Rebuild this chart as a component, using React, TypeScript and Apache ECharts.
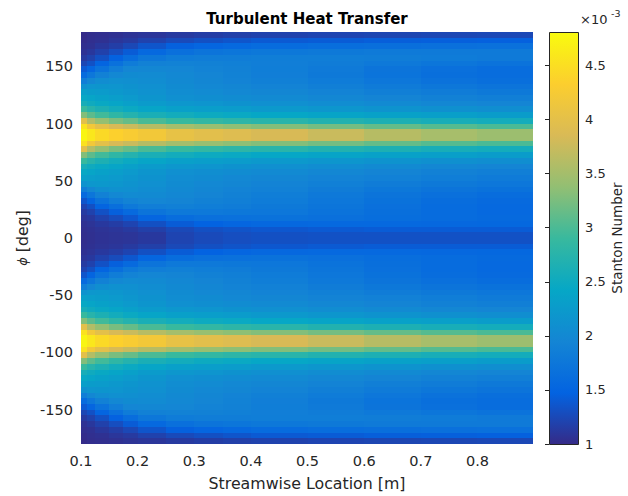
import React, { useEffect, useRef } from "react";
import * as echarts from "echarts";

// Streamwise cell edges [m]
const xEdges = [0.1, 0.11, 0.125, 0.15, 0.175, 0.2, 0.25, 0.3, 0.35, 0.4, 0.5, 0.6, 0.7, 0.8, 0.898];
// phi cell edges of the upper half [deg]; the lower half mirrors it
const phiEdges = [0, 5, 10, 15, 20, 25, 30, 35, 40, 45, 50, 55, 60, 65, 70, 75, 80, 85, 90, 95, 100, 105, 110, 115, 120, 125, 130, 135, 140, 145, 150, 155, 160, 165, 170, 175, 180];

// Stanton number (x1e-3), one array per streamwise cell, phi cells 0-5 ... 175-180
const st_x0105 = [1.03, 1.04, 1.06, 1.09, 1.14, 1.22, 1.36, 1.58, 1.85, 2.15, 2.33, 2.45, 2.6, 2.9, 3.3, 4.0, 4.55, 4.75, 4.75, 4.55, 4.0, 3.3, 2.9, 2.6, 2.45, 2.32, 2.12, 1.86, 1.6, 1.4, 1.24, 1.13, 1.07, 1.04, 1.02, 1.01];
const st_x0118 = [1.05, 1.06, 1.08, 1.12, 1.2, 1.32, 1.5, 1.74, 1.98, 2.2, 2.3, 2.4, 2.52, 2.75, 3.1, 3.6, 4.2, 4.6, 4.6, 4.2, 3.6, 3.1, 2.75, 2.52, 2.4, 2.28, 2.17, 1.98, 1.75, 1.52, 1.33, 1.2, 1.11, 1.06, 1.04, 1.03];
const st_x0138 = [1.07, 1.08, 1.12, 1.2, 1.33, 1.5, 1.7, 1.9, 2.08, 2.22, 2.28, 2.35, 2.46, 2.65, 2.95, 3.4, 4.0, 4.45, 4.45, 4.0, 3.4, 2.95, 2.65, 2.46, 2.35, 2.26, 2.18, 2.06, 1.9, 1.7, 1.5, 1.32, 1.19, 1.11, 1.06, 1.04];
const st_x0163 = [1.08, 1.1, 1.16, 1.28, 1.45, 1.65, 1.84, 2.0, 2.12, 2.19, 2.24, 2.3, 2.4, 2.55, 2.82, 3.25, 3.85, 4.35, 4.35, 3.85, 3.25, 2.82, 2.55, 2.4, 2.3, 2.22, 2.17, 2.1, 2.0, 1.86, 1.67, 1.47, 1.3, 1.17, 1.1, 1.06];
const st_x0188 = [1.09, 1.13, 1.22, 1.38, 1.58, 1.78, 1.93, 2.03, 2.1, 2.15, 2.19, 2.24, 2.33, 2.48, 2.72, 3.15, 3.75, 4.28, 4.28, 3.75, 3.15, 2.72, 2.48, 2.33, 2.24, 2.18, 2.14, 2.09, 2.04, 1.96, 1.82, 1.62, 1.42, 1.25, 1.13, 1.08];
const st_x0225 = [1.12, 1.18, 1.32, 1.52, 1.72, 1.86, 1.96, 2.02, 2.06, 2.1, 2.14, 2.18, 2.26, 2.4, 2.62, 3.0, 3.62, 4.2, 4.2, 3.62, 3.0, 2.62, 2.4, 2.26, 2.18, 2.13, 2.1, 2.06, 2.03, 1.98, 1.9, 1.76, 1.56, 1.36, 1.2, 1.1];
const st_x0275 = [1.22, 1.26, 1.42, 1.62, 1.78, 1.88, 1.94, 1.98, 2.01, 2.04, 2.07, 2.1, 2.2, 2.33, 2.55, 2.9, 3.5, 4.05, 4.05, 3.5, 2.9, 2.55, 2.33, 2.2, 2.1, 2.06, 2.04, 2.01, 1.99, 1.96, 1.91, 1.82, 1.66, 1.46, 1.27, 1.13];
const st_x0325 = [1.27, 1.32, 1.48, 1.66, 1.78, 1.85, 1.9, 1.94, 1.97, 2.0, 2.04, 2.08, 2.17, 2.3, 2.5, 2.85, 3.42, 3.98, 3.98, 3.42, 2.85, 2.5, 2.3, 2.17, 2.08, 2.03, 2.0, 1.97, 1.95, 1.93, 1.9, 1.84, 1.72, 1.52, 1.32, 1.16];
const st_x0375 = [1.3, 1.35, 1.52, 1.67, 1.77, 1.83, 1.87, 1.9, 1.93, 1.97, 2.0, 2.05, 2.14, 2.27, 2.47, 2.8, 3.36, 3.92, 3.92, 3.36, 2.8, 2.47, 2.27, 2.14, 2.05, 2.0, 1.97, 1.93, 1.91, 1.9, 1.88, 1.84, 1.74, 1.56, 1.36, 1.18];
const st_x0450 = [1.32, 1.38, 1.55, 1.68, 1.75, 1.79, 1.82, 1.85, 1.89, 1.93, 1.97, 2.02, 2.1, 2.23, 2.43, 2.76, 3.3, 3.85, 3.85, 3.3, 2.76, 2.43, 2.23, 2.1, 2.02, 1.97, 1.93, 1.88, 1.86, 1.85, 1.86, 1.85, 1.77, 1.6, 1.4, 1.2];
const st_x0550 = [1.33, 1.4, 1.56, 1.66, 1.7, 1.73, 1.75, 1.78, 1.83, 1.88, 1.93, 1.98, 2.06, 2.19, 2.39, 2.7, 3.22, 3.75, 3.75, 3.22, 2.7, 2.39, 2.19, 2.06, 1.98, 1.92, 1.87, 1.82, 1.79, 1.8, 1.83, 1.85, 1.79, 1.63, 1.42, 1.22];
const st_x0650 = [1.33, 1.42, 1.56, 1.63, 1.65, 1.66, 1.68, 1.72, 1.77, 1.83, 1.89, 1.94, 2.02, 2.15, 2.35, 2.65, 3.14, 3.62, 3.62, 3.14, 2.65, 2.35, 2.15, 2.02, 1.94, 1.87, 1.81, 1.75, 1.71, 1.72, 1.78, 1.84, 1.8, 1.65, 1.44, 1.23];
const st_x0750 = [1.33, 1.42, 1.55, 1.6, 1.6, 1.6, 1.62, 1.66, 1.72, 1.79, 1.85, 1.9, 1.98, 2.11, 2.31, 2.6, 3.06, 3.52, 3.52, 3.06, 2.6, 2.31, 2.11, 1.98, 1.9, 1.83, 1.76, 1.69, 1.65, 1.66, 1.74, 1.82, 1.8, 1.66, 1.45, 1.24];
const st_x0850 = [1.33, 1.42, 1.54, 1.57, 1.56, 1.56, 1.58, 1.62, 1.68, 1.75, 1.81, 1.87, 1.95, 2.08, 2.28, 2.56, 3.0, 3.45, 3.45, 3.0, 2.56, 2.28, 2.08, 1.95, 1.87, 1.79, 1.72, 1.65, 1.61, 1.62, 1.7, 1.8, 1.8, 1.67, 1.46, 1.25];

const stanton = [st_x0105, st_x0118, st_x0138, st_x0163, st_x0188, st_x0225, st_x0275, st_x0325, st_x0375, st_x0450, st_x0550, st_x0650, st_x0750, st_x0850];

const cMin = 1;
const cMax = 4.81;

const parula = ["#352a87", "#0363e1", "#1485d4", "#06a7c6", "#38b99e", "#92bf73", "#d9ba56", "#fcce2e", "#f9fb0e"];

const FONT = "DejaVu Sans";
const TXT = "#262626";

export default function App() {
  const ref = useRef<HTMLDivElement>(null);
  useEffect(() => {
    if (!ref.current) return;
    const chart = echarts.init(ref.current, undefined, { renderer: "svg" });

    const cells: number[][] = [];
    stanton.forEach((col, ci) => {
      col.forEach((v, ri) => {
        const x0 = xEdges[ci];
        const x1 = xEdges[ci + 1];
        const p0 = phiEdges[ri];
        const p1 = phiEdges[ri + 1];
        cells.push([x0, x1, p0, p1, v]);
        cells.push([x0, x1, -p1, -p0, v]);
      });
    });

    const rectItem = (params: any, api: any) => {
      const a = api.coord([api.value(0), api.value(3)]);
      const b = api.coord([api.value(1), api.value(2)]);
      const x = Math.round(a[0]);
      const y = Math.round(a[1]);
      return {
        type: "rect",
        shape: { x, y, width: Math.round(b[0]) - x, height: Math.round(b[1]) - y },
        style: { fill: api.visual("color") },
      };
    };

    const barItem = (params: any, api: any) => {
      const a = api.coord([api.value(0), api.value(3)]);
      const b = api.coord([api.value(1), api.value(2)]);
      const stops = parula.map((c, i) => ({ offset: i / (parula.length - 1), color: c }));
      return {
        type: "rect",
        shape: { x: Math.round(a[0]) + 0.5, y: Math.round(a[1]) + 0.5, width: Math.round(b[0] - a[0]), height: Math.round(b[1] - a[1]) },
        style: {
          fill: new echarts.graphic.LinearGradient(0, 1, 0, 0, stops),
          stroke: TXT,
          lineWidth: 1,
        },
      };
    };

    const labelStyle = { color: TXT, fontFamily: FONT };

    chart.setOption({
      animation: false,
      grid: [
        { left: 81, top: 32, width: 452, height: 412 },
        { left: 549, top: 32, width: 29, height: 412 },
      ],
      xAxis: [
        {
          type: "value",
          gridIndex: 0,
          min: 0.1,
          max: 0.898,
          interval: 0.1,
          axisLine: { show: false },
          axisTick: { show: false },
          splitLine: { show: false },
          axisLabel: {
            ...labelStyle,
            fontSize: 14.5,
            margin: 9,
            showMaxLabel: false,
            formatter: (v: number) => v.toFixed(1),
          },
        },
        { type: "value", gridIndex: 1, min: 0, max: 1, show: false },
      ],
      yAxis: [
        {
          type: "value",
          gridIndex: 0,
          min: -180,
          max: 180,
          splitNumber: 7,
          axisLine: { show: false },
          axisTick: { show: false },
          splitLine: { show: false },
          axisLabel: {
            ...labelStyle,
            fontSize: 14.5,
            margin: 8,
            showMinLabel: false,
            showMaxLabel: false,
            formatter: (v: number) => (Math.abs(v % 50) < 1e-9 ? String(v) : ""),
          },
        },
        {
          type: "value",
          gridIndex: 1,
          position: "right",
          min: cMin,
          max: cMax,
          interval: 0.5,
          axisLine: { show: false },
          axisTick: { show: true, inside: true, length: 4, lineStyle: { color: TXT, width: 1 } },
          splitLine: { show: false },
          axisLabel: {
            ...labelStyle,
            fontSize: 13,
            margin: 7,
            showMaxLabel: false,
            formatter: (v: number) => String(Math.round(v * 10) / 10),
          },
        },
      ],
      visualMap: {
        type: "continuous",
        show: false,
        min: cMin,
        max: cMax,
        dimension: 4,
        seriesIndex: 0,
        inRange: { color: parula },
      },
      series: [
        {
          type: "custom",
          xAxisIndex: 0,
          yAxisIndex: 0,
          renderItem: rectItem,
          encode: { x: [0, 1], y: [2, 3] },
          data: cells,
          silent: true,
        },
        {
          type: "custom",
          xAxisIndex: 1,
          yAxisIndex: 1,
          renderItem: barItem,
          encode: { x: [0, 1], y: [2, 3] },
          data: [[0, 1, cMin, cMax]],
          silent: true,
          z: 1,
        },
      ],
      graphic: [
        {
          type: "text",
          x: 307,
          y: 19,
          style: { text: "Turbulent Heat Transfer", align: "center", verticalAlign: "middle", fontSize: 15, fontWeight: "bold", fontFamily: FONT, fill: "#000" },
        },
        {
          type: "text",
          x: 307,
          y: 483,
          style: { text: "Streamwise Location [m]", align: "center", verticalAlign: "middle", fontSize: 15.8, fontFamily: FONT, fill: TXT },
        },
        {
          type: "text",
          x: 22,
          y: 238,
          rotation: Math.PI / 2,
          style: {
            text: "{i|ϕ} [deg]",
            align: "center",
            verticalAlign: "middle",
            fontSize: 15.8,
            fontFamily: FONT,
            fill: TXT,
            rich: { i: { fontStyle: "italic", fontSize: 13, fontFamily: FONT, fill: TXT } },
          },
        },
        {
          type: "text",
          x: 617,
          y: 238,
          rotation: Math.PI / 2,
          style: { text: "Stanton Number", align: "center", verticalAlign: "middle", fontSize: 13.5, fontFamily: FONT, fill: TXT },
        },
        {
          type: "text",
          x: 580,
          y: 19,
          style: { text: "×10", align: "left", verticalAlign: "middle", fontSize: 13, fontFamily: FONT, fill: TXT },
        },
        {
          type: "text",
          x: 611,
          y: 13,
          style: { text: "-3", align: "left", verticalAlign: "middle", fontSize: 9.5, fontFamily: FONT, fill: TXT },
        },
      ],
    });

    return () => chart.dispose();
  }, []);

  return <div ref={ref} style={{ width: 628, height: 496, position: "absolute", left: 0, top: 0 }} />;
}
